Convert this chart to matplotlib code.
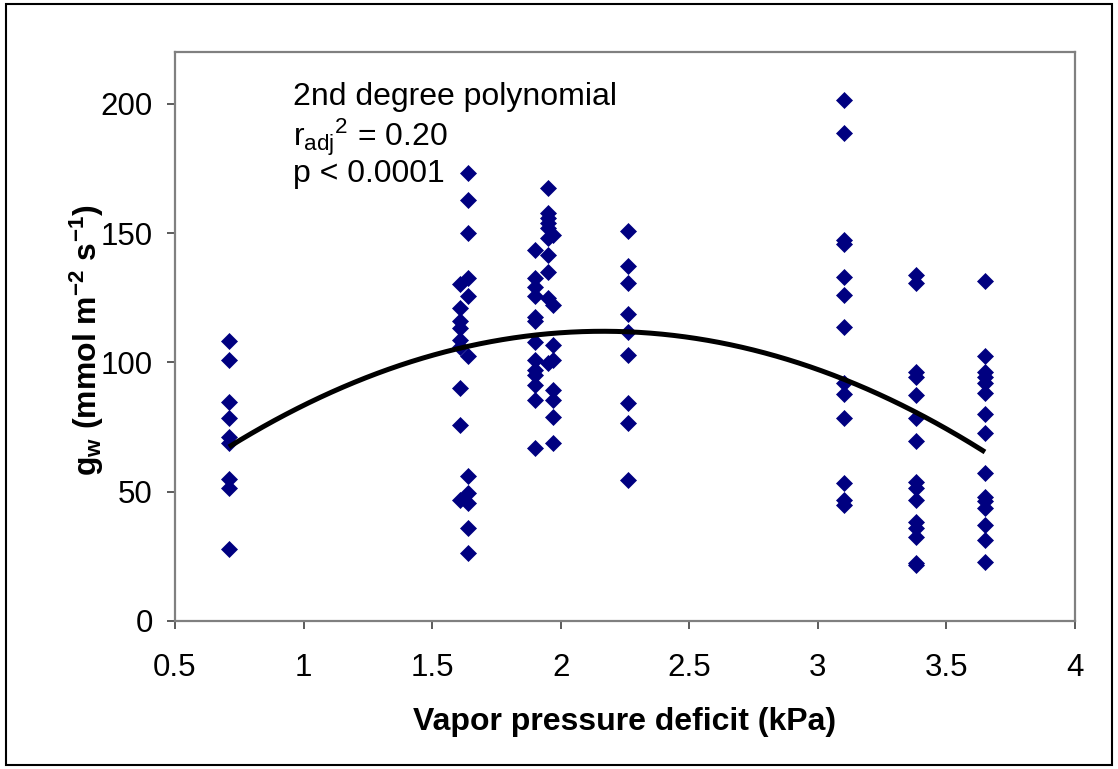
import numpy as np
import matplotlib
matplotlib.use("Agg")
import matplotlib.pyplot as plt
from matplotlib.patches import Rectangle

plt.rcParams['font.family'] = ['Liberation Sans', 'DejaVu Sans']
plt.rcParams['mathtext.fontset'] = 'custom'
plt.rcParams['mathtext.rm'] = 'Liberation Sans'
plt.rcParams['mathtext.it'] = 'Liberation Sans'
plt.rcParams['mathtext.bf'] = 'Liberation Sans:bold'

# stomatal conductance measured at each VPD level
vpd_071 = [108.3, 100.8, 84.8, 78.4, 71.3, 68.7, 54.8, 51.3, 27.9]
vpd_161 = [130.2, 121.0, 115.8, 113.2, 108.7, 106.1, 90.0, 75.8, 46.8]
vpd_164 = [173.2, 162.6, 150.0, 132.6, 125.5, 102.3, 56.1, 49.4, 45.5, 35.9, 26.2]
vpd_190 = [143.5, 132.6, 129.3, 125.5, 117.7, 115.8, 108.0, 101.0, 97.1, 95.2,
           91.3, 85.5, 66.8]
vpd_195 = [167.4, 157.7, 155.8, 153.8, 151.9, 148.0, 141.6, 135.1, 124.8, 99.7]
vpd_197 = [149.3, 122.2, 106.8, 101.0, 89.4, 85.5, 79.0, 68.7]
vpd_226 = [150.9, 137.1, 130.6, 118.6, 111.9, 102.9, 84.2, 76.5, 54.5]
vpd_310 = [201.5, 188.7, 147.4, 145.8, 132.9, 126.1, 113.6, 92.0, 87.8, 78.4,
           53.3, 46.8, 44.9]
vpd_338 = [133.8, 130.6, 96.4, 94.5, 87.4, 78.4, 69.4, 53.9, 51.3, 46.8, 38.4,
           35.9, 32.6, 22.3, 21.8]
vpd_365 = [131.6, 102.5, 96.4, 94.5, 91.9, 88.1, 80.1, 72.6, 57.1, 48.1, 46.2,
           43.6, 37.1, 31.3, 22.9]

groups = {0.71: vpd_071, 1.61: vpd_161, 1.64: vpd_164, 1.90: vpd_190,
          1.95: vpd_195, 1.97: vpd_197, 2.26: vpd_226, 3.10: vpd_310,
          3.38: vpd_338, 3.65: vpd_365}

# quadratic fit, highest power first
fit_coef = [-21.14, 91.5, 13.0]
fit_range = [0.71, 3.65]

xs, ys = [], []
for k, v in groups.items():
    xs += [k] * len(v)
    ys += v

FS = 23

fig = plt.figure(figsize=(11.18, 7.69), dpi=100)
ax = fig.add_axes([0.1565, 0.1925, 0.805, 0.7399])

ax.plot(xs, ys, linestyle='none', marker='D', ms=7.8, mfc='#000080',
        mec='#000080', mew=0.5, zorder=3)

xf = np.linspace(fit_range[0], fit_range[1], 200)
ax.plot(xf, np.polyval(fit_coef, xf), color='black', lw=3.6, zorder=4,
        solid_capstyle='butt')

ax.set_xlim(0.5, 4)
ax.set_ylim(0, 220)
ax.set_xticks(np.arange(0.5, 4.01, 0.5))
ax.set_xticklabels(['0.5', '1', '1.5', '2', '2.5', '3', '3.5', '4'])
ax.set_yticks([0, 50, 100, 150, 200])
ax.tick_params(labelsize=FS - 0.5, length=6, width=1.2, color='#404040')
ax.tick_params(axis='x', pad=17)
ax.tick_params(axis='y', pad=10)

for s in ax.spines.values():
    s.set_color('#808080')
    s.set_linewidth(1.6)

ax.set_xlabel('Vapor pressure deficit (kPa)', fontsize=FS, fontweight='bold')
ax.set_ylabel(r'g$_\mathbf{w}$ (mmol m$^\mathbf{-2}$ s$^\mathbf{-1}$)',
              fontsize=FS, fontweight='bold')
ax.xaxis.set_label_coords(0.5, -0.151)
ax.yaxis.set_label_coords(-0.077, 0.494)

ax.text(0.96, 199.6, '2nd degree polynomial', fontsize=FS, va='baseline')
ax.text(0.96, 183.5, r'r$_{\mathrm{adj}}$$^{2}$ = 0.20', fontsize=FS, va='baseline')
ax.text(0.96, 169.9, 'p < 0.0001', fontsize=FS, va='baseline')

fig.patches.append(Rectangle((0.005, 0.005), 0.99, 0.99, transform=fig.transFigure,
                             fill=False, edgecolor='black', lw=1.5))

fig.savefig('out.png', dpi=100)
